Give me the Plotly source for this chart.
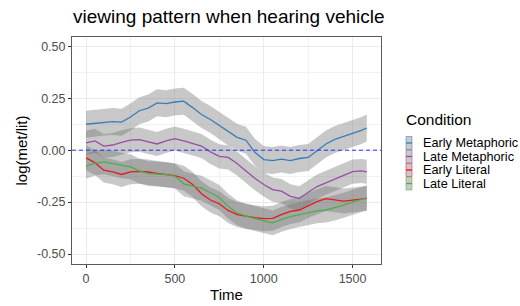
import plotly.graph_objects as go

# ---------------- data ----------------
time = [0, 50, 100, 150, 200, 250, 300, 350, 400, 450, 500, 550, 600, 650, 700, 750,
        800, 850, 900, 950, 1000, 1050, 1100, 1150, 1200, 1250, 1300, 1350, 1400,
        1450, 1500, 1550, 1580]

early_metaphoric = [0.125, 0.130, 0.136, 0.138, 0.135, 0.160, 0.190, 0.203, 0.228, 0.224,
                    0.232, 0.236, 0.205, 0.172, 0.148, 0.120, 0.088, 0.062, 0.048, -0.010,
                    -0.045, -0.050, -0.043, -0.050, -0.040, -0.035, -0.003, 0.030, 0.052,
                    0.066, 0.080, 0.095, 0.107]
late_metaphoric = [0.035, 0.045, 0.020, 0.025, 0.038, 0.048, 0.051, 0.040, 0.030, 0.045,
                   0.056, 0.045, 0.033, 0.020, -0.008, -0.030, -0.035, -0.064, -0.100, -0.135,
                   -0.165, -0.190, -0.197, -0.222, -0.232, -0.205, -0.175, -0.157, -0.140,
                   -0.120, -0.103, -0.100, -0.104]
early_literal = [-0.037, -0.060, -0.096, -0.104, -0.117, -0.104, -0.102, -0.105, -0.112, -0.118,
                 -0.123, -0.135, -0.165, -0.210, -0.240, -0.258, -0.290, -0.310, -0.318, -0.325,
                 -0.330, -0.328, -0.310, -0.295, -0.288, -0.266, -0.248, -0.233, -0.240,
                 -0.245, -0.240, -0.236, -0.232]
late_literal = [-0.077, -0.062, -0.056, -0.064, -0.075, -0.080, -0.100, -0.113, -0.115, -0.118,
                -0.125, -0.162, -0.173, -0.183, -0.205, -0.228, -0.270, -0.302, -0.318, -0.330,
                -0.340, -0.350, -0.333, -0.320, -0.310, -0.300, -0.292, -0.288, -0.278,
                -0.265, -0.250, -0.238, -0.229]

# standard-error half widths of the ribbons (per condition)
se_values = [0.065, 0.058, 0.060, 0.060]

conditions = ["Early Metaphoric", "Late Metaphoric", "Early Literal", "Late Literal"]
series = [early_metaphoric, late_metaphoric, early_literal, late_literal]
colors = ["#377EB8", "#984EA3", "#E41A1C", "#4DAF4A"]

x_tick_vals = [0, 500, 1000, 1500]
x_tick_labels = ["0", "500", "1000", "1500"]
y_tick_vals = [-0.5, -0.25, 0.0, 0.25, 0.5]
y_tick_labels = ["-0.50", "-0.25", "0.00", "0.25", "0.50"]

title_text = "viewing pattern when hearing vehicle"
x_title = "Time"
y_title = "log(met/lit)"
legend_title = "Condition"

# ---------------- figure ----------------
FONT = "Liberation Sans, Arial, Helvetica, sans-serif"
W, H = 520, 306
L, R, T, B = 72, 139, 37, 42
pw, ph = W - L - R, H - T - B


def px_x(x):
    return (x - L) / pw


def px_y(y):
    return (H - B - y) / ph


fig = go.Figure()

# ribbons
for vals, se in zip(series, se_values):
    upper = [v + se for v in vals]
    lower = [v - se for v in vals]
    fig.add_trace(go.Scatter(
        x=time + time[::-1], y=upper + lower[::-1],
        fill="toself", fillcolor="rgba(110,110,110,0.38)",
        line=dict(width=0), mode="lines", hoverinfo="skip", showlegend=False))

# lines
for name, vals, col in zip(conditions, series, colors):
    fig.add_trace(go.Scatter(
        x=time, y=vals, mode="lines", name=name,
        line=dict(color=col, width=1.3), showlegend=False))

# zero reference line
fig.add_shape(type="line", xref="paper", x0=0, x1=1, yref="y", y0=0, y1=0,
              line=dict(color="#2233ff", width=1, dash="4px,3px"))

# manual legend
fig.add_annotation(text=legend_title, xref="paper", yref="paper",
                   x=px_x(404), y=px_y(120), xanchor="left", yanchor="middle",
                   showarrow=False, font=dict(family=FONT, size=15.5, color="black"))
item_y = [143, 156.5, 170, 183.5]
for name, col, yc in zip(conditions, colors, item_y):
    fig.add_shape(type="rect", xref="paper", yref="paper",
                  x0=px_x(406), x1=px_x(412), y0=px_y(yc - 6.5), y1=px_y(yc + 6.5),
                  fillcolor="rgb(196,196,196)", line=dict(color=col, width=0.6), opacity=0.9)
    fig.add_shape(type="line", xref="paper", yref="paper",
                  x0=px_x(406), x1=px_x(412), y0=px_y(yc), y1=px_y(yc),
                  line=dict(color=col, width=1.3))
    fig.add_annotation(text=name, xref="paper", yref="paper",
                       x=px_x(421), y=px_y(yc), xanchor="left", yanchor="middle",
                       showarrow=False, font=dict(family=FONT, size=12.7, color="black"))

axis_common = dict(
    showline=True, mirror=True, linecolor="#5a5a5a", linewidth=1,
    ticks="outside", ticklen=3, tickcolor="#333333", tickwidth=1,
    gridcolor="#ebebeb", gridwidth=1.1, zeroline=False, automargin=False,
    tickfont=dict(family=FONT, size=12.5, color="#4d4d4d"),
)

fig.update_xaxes(
    range=[-79, 1660], tickmode="array", tickvals=x_tick_vals, ticktext=x_tick_labels,
    minor=dict(dtick=250, tick0=0, showgrid=True, gridcolor="#f2f2f2", gridwidth=0.8, ticks=""),
    title=dict(text=x_title, font=dict(family=FONT, size=15, color="black"), standoff=4),
    **axis_common)
fig.update_yaxes(
    range=[-0.548, 0.545], tickmode="array", tickvals=y_tick_vals, ticktext=y_tick_labels,
    minor=dict(dtick=0.125, tick0=0, showgrid=True, gridcolor="#f2f2f2", gridwidth=0.8, ticks=""),
    title=dict(text=y_title, font=dict(family=FONT, size=15, color="black"), standoff=5),
    **axis_common)

fig.update_layout(
    width=W, height=H,
    margin=dict(l=L, r=R, t=T, b=B, autoexpand=False),
    paper_bgcolor="white", plot_bgcolor="white",
    title=dict(text=title_text, xref="container", yref="container",
               x=73 / W, y=1 - 16 / H, xanchor="left", yanchor="middle",
               font=dict(family=FONT, size=19, color="black")),
    font=dict(family=FONT),
    showlegend=False,
)

fig.write_html("out.html", config={"displayModeBar": False},
               post_script="document.body.style.margin='0px';document.body.style.overflow='hidden';")
